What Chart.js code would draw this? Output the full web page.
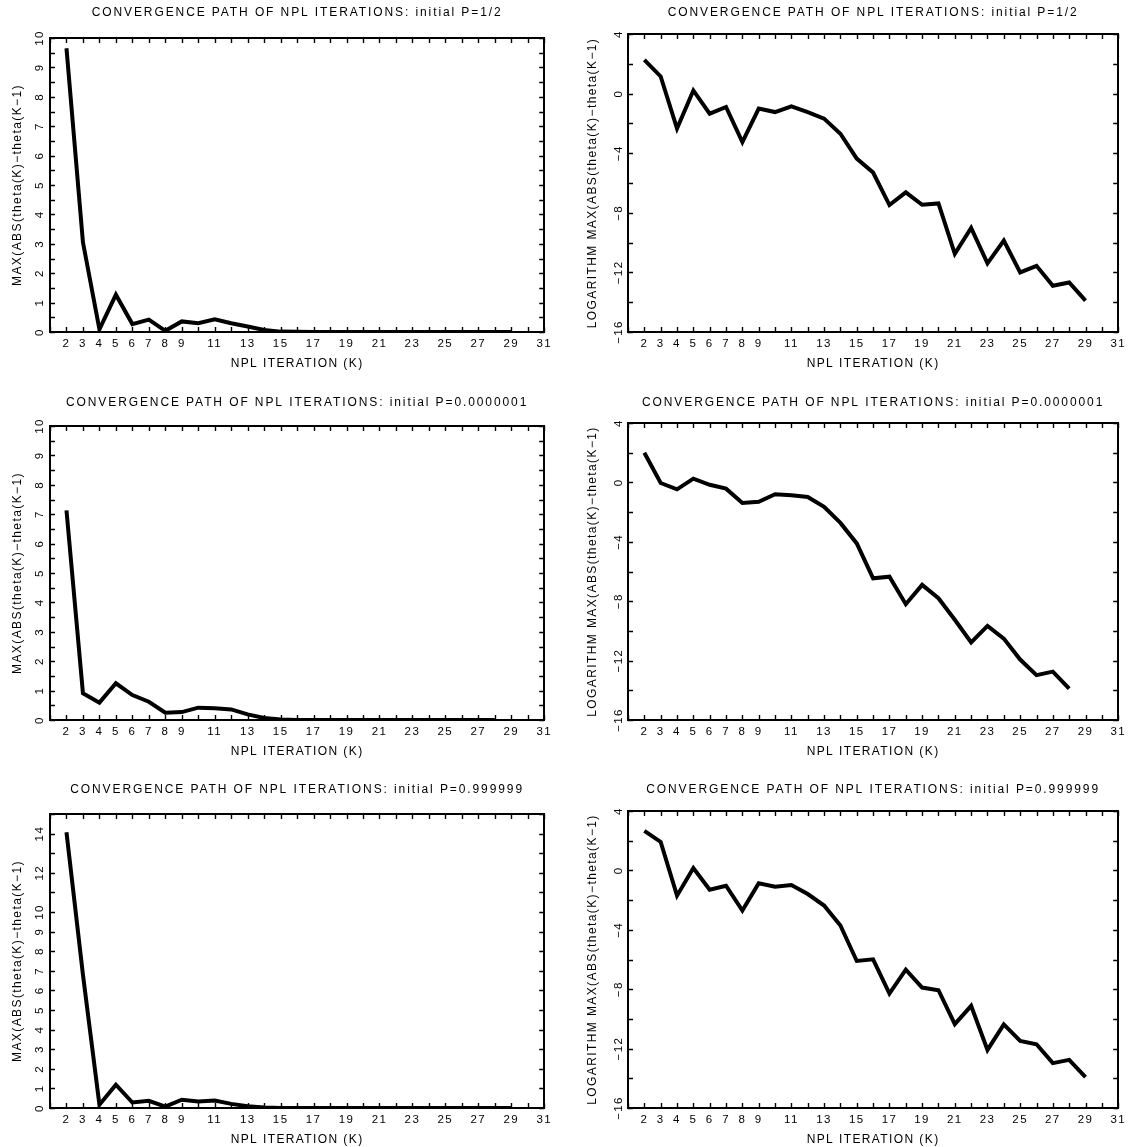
<!DOCTYPE html>
<html>
<head>
<meta charset="utf-8">
<script src="https://cdn.jsdelivr.net/npm/chart.js@4.4.1/dist/chart.umd.min.js"></script>
<style>
    body { margin: 0; background: #fff; width: 1130px; height: 1147px; position: relative; overflow: hidden; }
    canvas { position: absolute; }
</style>
</head>
<body>
<canvas id="levelHalf"></canvas>
<canvas id="logHalf"></canvas>
<canvas id="levelLow"></canvas>
<canvas id="logLow"></canvas>
<canvas id="levelHigh"></canvas>
<canvas id="logHigh"></canvas>
<script>
// iterations K
let kHalf = [2, 3, 4, 5, 6, 7, 8, 9, 10, 11, 12, 13, 14, 15, 16, 17, 18, 19, 20, 21, 22, 23, 24, 25, 26, 27, 28, 29]
let kLow = [2, 3, 4, 5, 6, 7, 8, 9, 10, 11, 12, 13, 14, 15, 16, 17, 18, 19, 20, 21, 22, 23, 24, 25, 26, 27, 28]
let kHigh = [2, 3, 4, 5, 6, 7, 8, 9, 10, 11, 12, 13, 14, 15, 16, 17, 18, 19, 20, 21, 22, 23, 24, 25, 26, 27, 28, 29]

// initial P=1/2
let diffHalf = [9.65, 3.05, 0.09, 1.27, 0.27, 0.42, 0.04, 0.36, 0.30, 0.43, 0.30, 0.19, 0.07, 0.013, 0.005, 0.0006, 0.0013, 0.0006, 0.0006, 0.00002, 0.0001, 0.00001, 0.00005, 0.000006, 0.00001, 0.000002, 0.000003, 0.000001]
let logDiffHalf = [2.26, 1.15, -2.35, 0.21, -1.35, -0.9, -3.25, -1.0, -1.24, -0.86, -1.24, -1.68, -2.69, -4.36, -5.3, -7.48, -6.63, -7.46, -7.37, -10.76, -9.02, -11.39, -9.87, -12.0, -11.56, -12.9, -12.68, -13.9]
// initial P=0.0000001
let diffLow = [7.13, 0.91, 0.59, 1.25, 0.85, 0.62, 0.25, 0.27, 0.42, 0.40, 0.36, 0.19, 0.07, 0.016, 0.0016, 0.0018, 0.0003, 0.001, 0.0004, 0.0001, 0.00002, 0.00006, 0.00003, 0.000007, 0.000002, 0.000003, 0.000001]
let logDiffLow = [2.0, -0.04, -0.47, 0.25, -0.16, -0.42, -1.39, -1.30, -0.80, -0.87, -0.98, -1.65, -2.73, -4.11, -6.46, -6.35, -8.2, -6.9, -7.8, -9.25, -10.77, -9.66, -10.52, -11.93, -12.98, -12.74, -13.88]
// initial P=0.999999
let diffHigh = [14.07, 6.8, 0.17, 1.19, 0.28, 0.37, 0.07, 0.42, 0.33, 0.38, 0.21, 0.09, 0.025, 0.002, 0.0025, 0.0003, 0.0012, 0.0004, 0.0003, 0.00003, 0.0001, 0.000006, 0.00003, 0.00001, 0.000008, 0.000002, 0.000003, 0.000001]
let logDiffHigh = [2.66, 1.92, -1.7, 0.16, -1.3, -1.03, -2.7, -0.87, -1.1, -0.98, -1.59, -2.37, -3.71, -6.1, -5.99, -8.29, -6.68, -7.89, -8.07, -10.35, -9.12, -12.09, -10.37, -11.49, -11.71, -12.98, -12.76, -13.92]

// tick labels
let xTickLabels = [2, 3, 4, 5, 6, 7, 8, 9, 11, 13, 15, 17, 19, 21, 23, 25, 27, 29, 31]
let yLabelsLevel = [0, 1, 2, 3, 4, 5, 6, 7, 8, 9, 10]
let yLabelsHigh = [0, 1, 2, 3, 4, 5, 6, 7, 8, 9, 10, 12, 14]
let yLabelsLog = [-16, -12, -8, -4, 0, 4]

let titleHalf = "CONVERGENCE PATH OF NPL ITERATIONS: initial P=1/2"
let titleLow = "CONVERGENCE PATH OF NPL ITERATIONS: initial P=0.0000001"
let titleHigh = "CONVERGENCE PATH OF NPL ITERATIONS: initial P=0.999999"
let yTitleLevel = "MAX(ABS(theta(K)\u2212theta(K\u22121)"
let yTitleLog = "LOGARITHM MAX(ABS(theta(K)\u2212theta(K\u22121)"
let xTitle = "NPL ITERATION (K)"

const FONT = "'Liberation Sans', Arial, sans-serif"
let minus = v => v < 0 ? "\u2212" + Math.abs(v) : String(v)

// spaced-out plotter lettering + ticks pointing into the frame on all four sides
let plotterStyle = {
    id: 'plotterStyle',
    beforeDraw(chart) {
        chart.ctx.letterSpacing = '1.9px'   // panel title
    },
    afterDatasetsDraw(chart) {
        chart.ctx.letterSpacing = '1.4px'   // axis labels and titles (layer z: 1)
    },
    afterDraw(chart) {
        let {ctx, chartArea: a, scales} = chart
        let x = scales.x, y = scales.y
        ctx.save()
        ctx.strokeStyle = '#000'
        ctx.lineWidth = 1.4
        ctx.beginPath()
        x.ticks.forEach(t => {
            let px = Math.round(x.getPixelForValue(t.value)) + 0.5
            ctx.moveTo(px, a.bottom); ctx.lineTo(px, a.bottom - 5)
            ctx.moveTo(px, a.top); ctx.lineTo(px, a.top + 5)
        })
        y.ticks.forEach(t => {
            let py = Math.round(y.getPixelForValue(t.value)) + 0.5
            ctx.moveTo(a.left, py); ctx.lineTo(a.left + 5, py)
            ctx.moveTo(a.right, py); ctx.lineTo(a.right - 5, py)
        })
        ctx.stroke()
        ctx.restore()
    }
}

let makePanel = (p) => {
    let cv = document.getElementById(p.id)
    cv.width = p.cw
    cv.height = p.ch
    cv.style.left = p.cx + 'px'
    cv.style.top = p.cy + 'px'
    let tlh = 12 * 1.2
    let titleTop = p.titleY - p.cy - tlh / 2
    let titleBottom = (p.box.t - p.cy) - tlh - titleTop
    let xAxisH = p.cy + p.ch - p.box.b
    let yAxisW = p.box.l - p.cx
    let frame = { display: true, color: '#000', width: 2 }
    let frameTop = { display: true, color: '#000', width: 2, z: 1 }

    return new Chart(cv, {
        type: 'line',
        data: {
            labels: p.k,
            datasets: [{
                data: p.values,
                borderColor: '#000',
                borderWidth: 4,
                borderJoinStyle: 'miter',
                pointRadius: 0,
                tension: 0,
                fill: false
            }]
        },
        options: {
            responsive: false,
            animation: false,
            layout: { autoPadding: false, padding: { left: 0, top: 0, bottom: 0, right: p.cx + p.cw - p.box.r } },
            plugins: {
                legend: { display: false },
                tooltip: { enabled: false },
                title: {
                    display: true,
                    fullSize: false,
                    text: p.title,
                    color: '#000',
                    font: { family: FONT, size: 12, weight: 'normal' },
                    padding: { top: titleTop, bottom: titleBottom }
                }
            },
            scales: {
                x: {
                    type: 'linear',
                    position: 'bottom',
                    min: 1, max: 31,
                    grid: { display: false, drawTicks: false, z: 1 },
                    border: frameTop,
                    ticks: {
                        z: 1,
                        stepSize: 1, autoSkip: false, maxRotation: 0, padding: 5.4,
                        color: '#000', font: { family: FONT, size: 11.5 },
                        callback: v => xTickLabels.includes(v) ? String(v) : ''
                    },
                    title: {
                        display: true, text: xTitle, color: '#000',
                        font: { family: FONT, size: 12 },
                        padding: { top: 0, bottom: (xAxisH - 32) - tlh / 2 }
                    },
                    afterFit: s => { s.height = xAxisH }
                },
                x2: {
                    type: 'linear', position: 'top', min: 1, max: 31,
                    grid: { display: false, drawTicks: false },
                    border: frame,
                    ticks: { display: false },
                    afterFit: s => { s.height = 0 }
                },
                y: {
                    type: 'linear',
                    position: 'left',
                    min: p.yMin, max: p.yMax,
                    grid: { display: false, drawTicks: false, z: 1 },
                    border: frameTop,
                    ticks: {
                        z: 1,
                        stepSize: p.yStep, autoSkip: false, minRotation: 90, maxRotation: 90,
                        crossAlign: 'center', padding: p.yPad,
                        color: '#000', font: { family: FONT, size: 11.5 },
                        callback: v => p.yLabels.includes(v) ? minus(v) : ''
                    },
                    title: {
                        display: true, text: p.yTitle, color: '#000',
                        font: { family: FONT, size: 12 },
                        padding: { top: p.yTitleX - p.cx - tlh / 2, bottom: 0 }
                    },
                    afterFit: s => { s.width = yAxisW }
                },
                y2: {
                    type: 'linear', position: 'right', min: p.yMin, max: p.yMax,
                    grid: { display: false, drawTicks: false },
                    border: frame,
                    ticks: { display: false },
                    afterFit: s => { s.width = 0 }
                }
            }
        },
        plugins: [plotterStyle]
    })
}

let levelAxis = { yMin: 0, yMax: 10, yStep: 0.5, yLabels: yLabelsLevel, yTitle: yTitleLevel, yPad: 4, yTitleX: 18 }
let logAxis = { yMin: -16, yMax: 4, yStep: 2, yLabels: yLabelsLog, yTitle: yTitleLog, yPad: -1, yTitleX: 593 }

makePanel({ id: 'levelHalf', cx: 0, cy: 0, cw: 556, ch: 380, box: { l: 50, r: 546, t: 38, b: 332 }, titleY: 13,
    k: kHalf, values: diffHalf, title: titleHalf, ...levelAxis })
makePanel({ id: 'logHalf', cx: 565, cy: 0, cw: 565, ch: 380, box: { l: 628, r: 1124, t: 34, b: 332 }, titleY: 13,
    k: kHalf, values: logDiffHalf, title: titleHalf, ...logAxis })

makePanel({ id: 'levelLow', cx: 0, cy: 385, cw: 556, ch: 385, box: { l: 50, r: 546, t: 426, b: 720 }, titleY: 403,
    k: kLow, values: diffLow, title: titleLow, ...levelAxis })
makePanel({ id: 'logLow', cx: 565, cy: 385, cw: 565, ch: 385, box: { l: 628, r: 1124, t: 423, b: 720 }, titleY: 403,
    k: kLow, values: logDiffLow, title: titleLow, ...logAxis })

makePanel({ id: 'levelHigh', cx: 0, cy: 775, cw: 556, ch: 372, box: { l: 50, r: 546, t: 814, b: 1108 }, titleY: 790,
    k: kHigh, values: diffHigh, title: titleHigh, ...levelAxis, yMax: 15, yStep: 1, yLabels: yLabelsHigh })
makePanel({ id: 'logHigh', cx: 565, cy: 775, cw: 565, ch: 372, box: { l: 628, r: 1124, t: 811, b: 1108 }, titleY: 790,
    k: kHigh, values: logDiffHigh, title: titleHigh, ...logAxis })
</script>
</body>
</html>
